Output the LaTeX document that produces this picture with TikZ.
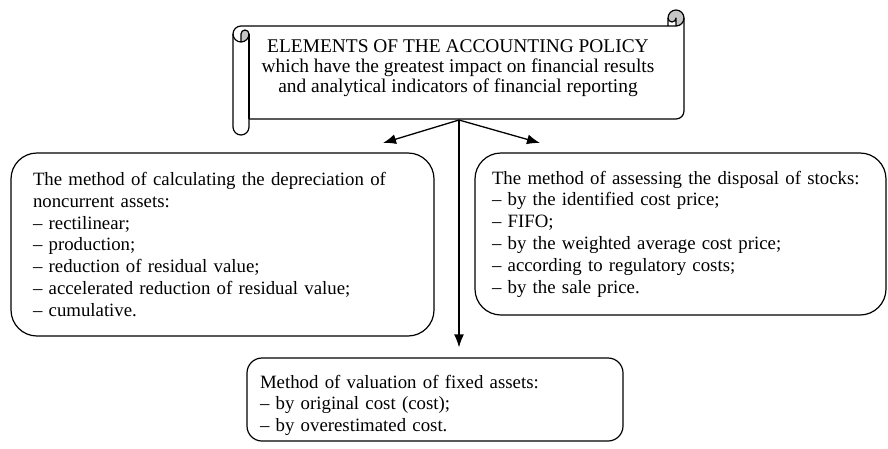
\documentclass[tikz,border=0pt]{standalone}
\usepackage{fontspec}
\setmainfont{Liberation Serif}
\usetikzlibrary{arrows.meta,positioning,calc}

\begin{document}
\begin{tikzpicture}[x=1pt, y=-1pt,
  font=\fontsize{18.8}{21.8}\selectfont,
  method/.style={draw, line width=1.2pt, align=left, inner ysep=0pt},
  roll/.style={line width=1.2pt, line join=round},
  flow/.style={-{Latex[length=13pt,width=10pt]}, line width=1.3pt}
]
\useasboundingbox (0,0) rectangle (888,448);
\fill[white] (0,0) rectangle (888,448);
% scroll
\fill[white] (233,34) arc[start angle=180, delta angle=90, radius=8]
  -- (668,26) -- (668,18) arc[start angle=180, delta angle=180, radius=8]
  -- (684,111) arc[start angle=0, delta angle=90, radius=8]
  -- (249,119) -- (249,127) arc[start angle=0, delta angle=180, radius=8] -- cycle;
\fill[gray!45] (676,26) arc[start angle=90, delta angle=-270, radius=8]
  arc[start angle=180, delta angle=-180, radius=4] -- cycle;
\fill[gray!45] (241,42) arc[start angle=90, delta angle=-90, radius=8]
  arc[start angle=0, delta angle=-180, radius=4] -- cycle;
\draw[roll] (233,34) arc[start angle=180, delta angle=90, radius=8]
  -- (668,26) -- (668,18) arc[start angle=180, delta angle=180, radius=8]
  -- (684,111) arc[start angle=0, delta angle=90, radius=8]
  -- (249,119) -- (249,127) arc[start angle=0, delta angle=180, radius=8] -- cycle;
\draw[roll] (668,26) -- (676,26) arc[start angle=90, delta angle=-90, radius=8];
\draw[roll] (676,26) -- (676,18) arc[start angle=0, delta angle=180, radius=4];
\draw[roll] (241,42) -- (241,34) arc[start angle=180, delta angle=180, radius=4]
  arc[start angle=0, delta angle=180, radius=8];
\draw[roll] (249,34) -- (249,119);
\node[align=center, font=\fontsize{19.4}{20}\selectfont] (policy) at (458,68)
  {ELEMENTS OF THE ACCOUNTING POLICY\\
   which have the greatest impact on financial results\\
   and analytical indicators of financial reporting};
% boxes
\node[method, rounded corners=26pt, inner xsep=22pt, text width=379pt,
  minimum height=183pt] (depr) at (222.5,244.5)
  {The method of calculating the depreciation of\\
   noncurrent assets:\\
   -- rectilinear;\\
   -- production;\\
   -- reduction of residual value;\\
   -- accelerated reduction of residual value;\\
   -- cumulative.};
\node[method, rounded corners=26pt, inner xsep=17pt, text width=377pt,
  minimum height=162pt] (stocks) at (680.5,234)
  {The method of assessing the disposal of stocks:\\
   -- by the identified cost price;\\
   -- FIFO;\\
   -- by the weighted average cost price;\\
   -- according to regulatory costs;\\
   -- by the sale price.};
\node[method, rounded corners=15pt, inner xsep=13pt, text width=350pt,
  minimum height=83pt] (valuation) at (435,399.5)
  {\rule{0pt}{25pt}Method of valuation of fixed assets:\\
   -- by original cost (cost);\\
   -- by overestimated cost.};
% arrows
\coordinate (fork) at (459,120);
\coordinate (tipL) at (383,143);
\coordinate (tipR) at (540,143);
\draw[flow] (fork) -- (tipL);
\draw[flow] (fork) -- (tipR);
\draw[flow, shorten >=10pt] (fork) -- (valuation.north -| fork);
\end{tikzpicture}
\end{document}
